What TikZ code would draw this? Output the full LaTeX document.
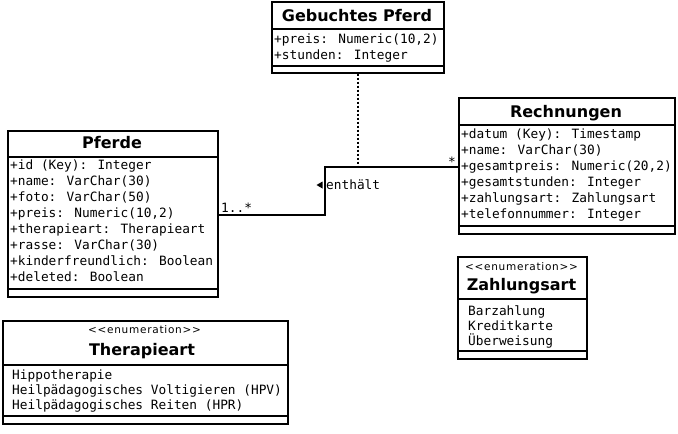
\documentclass[tikz,border=0pt]{standalone}
\usepackage{fontspec}
\newfontfamily\monof{DejaVu Sans Mono}
\newfontfamily\titlef{DejaVu Sans}
\newfontfamily\stereof[LetterSpace=7]{DejaVu Sans}
\begin{document}
\begin{tikzpicture}[x=1pt,y=-1pt,
  box/.style={draw, line width=1.7pt, anchor=north west, inner sep=0pt},
  attr/.style={anchor=base west, inner sep=0pt, font=\monof\fontsize{12.8}{15}\selectfont},
  ttl/.style={anchor=base, inner sep=0pt, font=\titlef\bfseries\fontsize{16}{19}\selectfont},
  stereo/.style={anchor=base, inner sep=0pt, font=\stereof\fontsize{10.5}{12}\selectfont},
  sep/.style={line width=1.7pt},
  conn/.style={line width=1.8pt},
  lbl/.style={inner sep=0pt, font=\monof\fontsize{12.8}{15}\selectfont}]
\useasboundingbox (0,0) rectangle (678,434);
\fill[white] (0,0) rectangle (678,434);

% ---------- Gebuchtes Pferd
\node[box, minimum width=172pt, minimum height=71pt] (geb) at (271,1) {};
\node[ttl] (gebt) at (357,21) {Gebuchtes Pferd};
\draw[sep] (geb.west |- 0,29) -- (geb.east |- 0,29);
\node[attr] (geb1) at (274,43) {+preis: Numeric(10,2)};
\node[attr] (geb2) at (274,59) {+stunden: Integer};
\draw[sep] (geb.west |- 0,66) -- (geb.east |- 0,66);

% ---------- Pferde
\node[box, minimum width=210pt, minimum height=166pt] (pf) at (7,130) {};
\node[ttl] (pft) at (112,148) {Pferde};
\draw[sep] (pf.west |- 0,157) -- (pf.east |- 0,157);
\foreach \t [count=\i] in {{+id (Key): Integer},{+name: VarChar(30)},{+foto: VarChar(50)},{+preis: Numeric(10,2)},{+therapieart: Therapieart},{+rasse: VarChar(30)},{+kinderfreundlich: Boolean},{+deleted: Boolean}}
  \node[attr] (pf\i) at (10,{169+16.1*(\i-1)}) {\t};
\draw[sep] (pf.west |- 0,289) -- (pf.east |- 0,289);

% ---------- Rechnungen
\node[box, minimum width=216pt, minimum height=136pt] (re) at (458,97) {};
\node[ttl] (ret) at (566,117) {Rechnungen};
\draw[sep] (re.west |- 0,125) -- (re.east |- 0,125);
\foreach \t [count=\i] in {{+datum (Key): Timestamp},{+name: VarChar(30)},{+gesamtpreis: Numeric(20,2)},{+gesamtstunden: Integer},{+zahlungsart: Zahlungsart},{+telefonnummer: Integer}}
  \node[attr] (re\i) at (461,{138+16*(\i-1)}) {\t};
\draw[sep] (re.west |- 0,226) -- (re.east |- 0,226);

% ---------- Zahlungsart
\node[box, minimum width=129pt, minimum height=102pt] (za) at (457,256) {};
\node[stereo] (zas) at (521.5,270) {\textless\textless enumeration\textgreater\textgreater};
\node[ttl] (zat) at (521.5,290) {Zahlungsart};
\draw[sep] (za.west |- 0,299) -- (za.east |- 0,299);
\foreach \t [count=\i] in {Barzahlung,Kreditkarte,Überweisung}
  \node[attr] (za\i) at (468,{315+15*(\i-1)}) {\t};
\draw[sep] (za.west |- 0,351) -- (za.east |- 0,351);

% ---------- Therapieart
\node[box, minimum width=285pt, minimum height=103pt] (th) at (2,320) {};
\node[stereo] (ths) at (144.5,333) {\textless\textless enumeration\textgreater\textgreater};
\node[ttl] (tht) at (142,355) {Therapieart};
\draw[sep] (th.west |- 0,365) -- (th.east |- 0,365);
\foreach \t [count=\i] in {Hippotherapie,{Heilpädagogisches Voltigieren (HPV)},{Heilpädagogisches Reiten (HPR)}}
  \node[attr] (th\i) at (12,{379+15*(\i-1)}) {\t};
\draw[sep] (th.west |- 0,416) -- (th.east |- 0,416);

% ---------- association
\coordinate (b1) at (325,215);
\coordinate (b2) at (325,167);
\draw[conn] (pf.east |- b1) -- (b1) -- (b2) -- (re.west |- b2);
\draw[line width=1.7pt, dash pattern=on 2pt off 2pt] (geb.south) -- (geb.south |- b2);
\node[lbl, anchor=base west] (m1) at (221,212) {1..*};
\node[lbl, anchor=base east] (m2) at (456,166) {*};
\node[lbl, anchor=base west] (as) at (326,189) {enthält};
\fill (322.5,181.5) -- (316.5,185) -- (322.5,188.5) -- cycle;
\end{tikzpicture}
\end{document}
